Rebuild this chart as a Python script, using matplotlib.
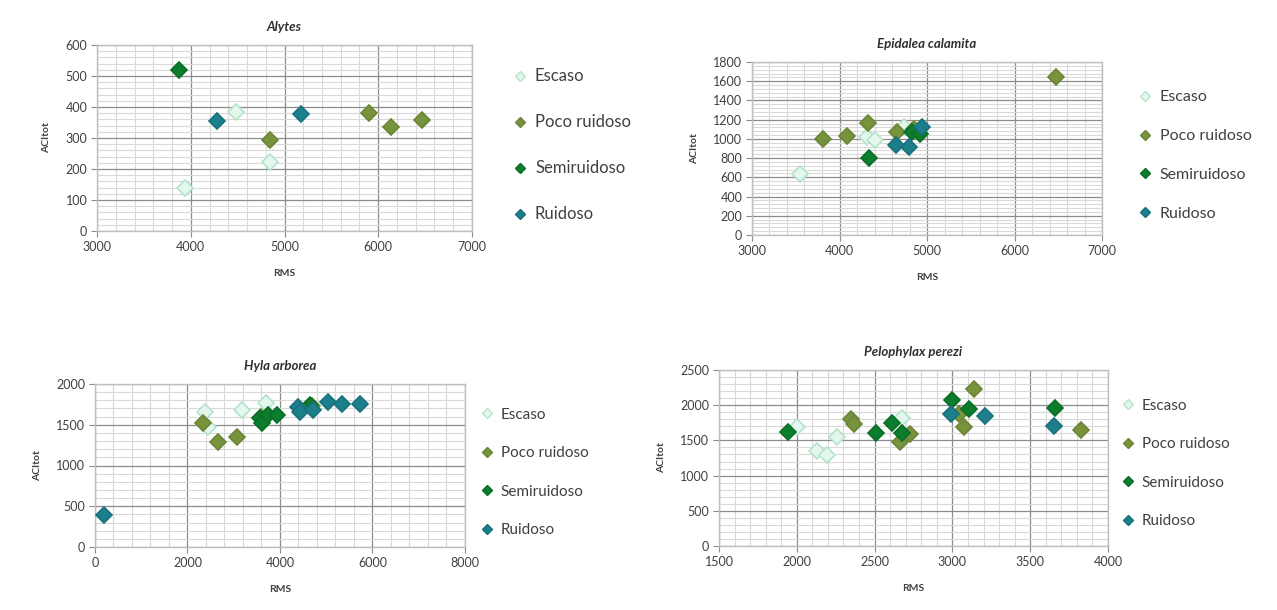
import matplotlib
matplotlib.use("Agg")
import matplotlib.pyplot as plt
from matplotlib.lines import Line2D
from matplotlib.ticker import MultipleLocator

plt.rcParams['font.family'] = ['Lato', 'DejaVu Sans']

categories = ["Escaso", "Poco ruidoso", "Semiruidoso", "Ruidoso"]

# ---- Alytes ----
alytes_escaso_x = [4480, 3940, 4850]
alytes_escaso_y = [383, 138, 221]
alytes_poco_x = [4840, 5900, 6140, 6470]
alytes_poco_y = [292, 380, 334, 357]
alytes_semi_x = [3870, ]
alytes_semi_y = [520, ]
alytes_ruid_x = [4280, 5175]
alytes_ruid_y = [356, 377]

# ---- Epidalea calamita ----
epi_escaso_x = [3550, 4310, 4410, 4740]
epi_escaso_y = [635, 1020, 985, 1120]
epi_poco_x = [3810, 4080, 4320, 4660, 4850, 6470]
epi_poco_y = [1000, 1025, 1170, 1075, 1100, 1645]
epi_semi_x = [4340, 4830, 4920]
epi_semi_y = [800, 1070, 1055]
epi_ruid_x = [4650, 4790, 4940]
epi_ruid_y = [940, 920, 1120]

# ---- Hyla arborea ----
hyla_escaso_x = [2380, 2440, 3180, 3700]
hyla_escaso_y = [1660, 1475, 1685, 1770]
hyla_poco_x = [2330, 2660, 3070, 3600, 4700]
hyla_poco_y = [1525, 1290, 1355, 1600, 1730]
hyla_semi_x = [3570, 3610, 3740, 3930, 4640]
hyla_semi_y = [1585, 1525, 1620, 1620, 1745]
hyla_ruid_x = [200, 4390, 4430, 4710, 5040, 5340, 5730]
hyla_ruid_y = [395, 1720, 1660, 1680, 1780, 1755, 1755]

# ---- Pelophylax perezi ----
pelo_escaso_x = [2000, 2257, 2128, 2193, 2675]
pelo_escaso_y = [1690, 1545, 1345, 1295, 1820]
pelo_poco_x = [2350, 2365, 2725, 2665, 3045, 3075, 3140, 3826]
pelo_poco_y = [1800, 1730, 1590, 1480, 1880, 1690, 2230, 1650]
pelo_semi_x = [1942, 2510, 2610, 2675, 3000, 3106, 3660]
pelo_semi_y = [1615, 1600, 1745, 1610, 2070, 1940, 1960]
pelo_ruid_x = [2990, 3210, 3650]
pelo_ruid_y = [1880, 1840, 1700]

face = {"Escaso": "#e4f7ec", "Poco ruidoso": "#77933c",
        "Semiruidoso": "#0b7d2c", "Ruidoso": "#1c7f8c"}
edge = {"Escaso": "#b5e3c9", "Poco ruidoso": "#6a8636",
        "Semiruidoso": "#0a6e27", "Ruidoso": "#19717d"}

W, H = 1277, 610
fig = plt.figure(figsize=(W / 100, H / 100), dpi=100)
fig.patch.set_facecolor("white")


def px_axes(left, right, top, bottom):
    return fig.add_axes([left / W, 1 - bottom / H, (right - left) / W, (bottom - top) / H])


def setup(ax, xlim, ylim, xmaj, xmin, ymaj, ymin, title):
    ax.set_xlim(*xlim)
    ax.set_ylim(*ylim)
    ax.xaxis.set_major_locator(MultipleLocator(xmaj))
    ax.xaxis.set_minor_locator(MultipleLocator(xmin))
    ax.yaxis.set_major_locator(MultipleLocator(ymaj))
    ax.yaxis.set_minor_locator(MultipleLocator(ymin))
    ax.grid(which="minor", color="#d9d9d9", lw=0.8)
    ax.grid(which="major", color="#8c8c8c", lw=0.9)
    ax.set_axisbelow(True)
    for s in ax.spines.values():
        s.set_color("#bfbfbf")
        s.set_linewidth(1.0)
    ax.tick_params(which="major", length=4, color="#8c8c8c", labelsize=9,
                   labelcolor="#404040", pad=3)
    ax.tick_params(which="minor", length=0)
    ax.set_title(title, fontsize=9.5, fontweight="bold", style="italic", color="#303030", pad=10)
    ax.set_xlabel("RMS", fontsize=7.5, fontweight="bold", color="#404040", labelpad=12)
    ax.set_ylabel("ACItot", fontsize=7.5, fontweight="bold", color="#404040", labelpad=10)


def scatter(ax, data):
    for cat, (xs, ys) in zip(categories, data):
        ax.plot(xs, ys, ls="none", marker="D", ms=8, mfc=face[cat], mec=edge[cat],
                mew=1.2, label=cat, zorder=3)


def legend(ax, x, y, spacing, fs):
    handles = [Line2D([], [], ls="none", marker="D", ms=5.5, mfc=face[c], mec=edge[c], mew=1.0)
               for c in categories]
    ax.legend(handles, categories, loc="upper left", bbox_to_anchor=(x / W, 1 - y / H),
              bbox_transform=fig.transFigure, frameon=False, fontsize=fs,
              handlelength=0.8, handletextpad=0.5, labelspacing=spacing, borderpad=0,
              labelcolor="#404040")


# Alytes
ax1 = px_axes(97, 472, 45, 231)
setup(ax1, (3000, 7000), (0, 600), 1000, 200, 100, 20, "Alytes")
scatter(ax1, [(alytes_escaso_x, alytes_escaso_y), (alytes_poco_x, alytes_poco_y),
              (alytes_semi_x, alytes_semi_y), (alytes_ruid_x, alytes_ruid_y)])
legend(ax1, 505, 60, 1.8, 12)

# Epidalea calamita
ax2 = px_axes(752, 1102, 62, 235)
setup(ax2, (3000, 7000), (0, 1800), 1000, 200, 200, 40, "Epidalea calamita")
scatter(ax2, [(epi_escaso_x, epi_escaso_y), (epi_poco_x, epi_poco_y),
              (epi_semi_x, epi_semi_y), (epi_ruid_x, epi_ruid_y)])
legend(ax2, 1131, 82, 1.55, 11.5)

# Hyla arborea
ax3 = px_axes(95, 465, 384, 547)
setup(ax3, (0, 8000), (0, 2000), 2000, 400, 500, 100, "Hyla arborea")
scatter(ax3, [(hyla_escaso_x, hyla_escaso_y), (hyla_poco_x, hyla_poco_y),
              (hyla_semi_x, hyla_semi_y), (hyla_ruid_x, hyla_ruid_y)])
legend(ax3, 473, 400, 1.6, 11)

# Pelophylax perezi
ax4 = px_axes(719, 1108, 370, 546)
setup(ax4, (1500, 4000), (0, 2500), 500, 100, 500, 100, "Pelophylax perezi")
scatter(ax4, [(pelo_escaso_x, pelo_escaso_y), (pelo_poco_x, pelo_poco_y),
              (pelo_semi_x, pelo_semi_y), (pelo_ruid_x, pelo_ruid_y)])
legend(ax4, 1114, 391, 1.6, 11)

fig.savefig("out.png", dpi=100, facecolor="white")
